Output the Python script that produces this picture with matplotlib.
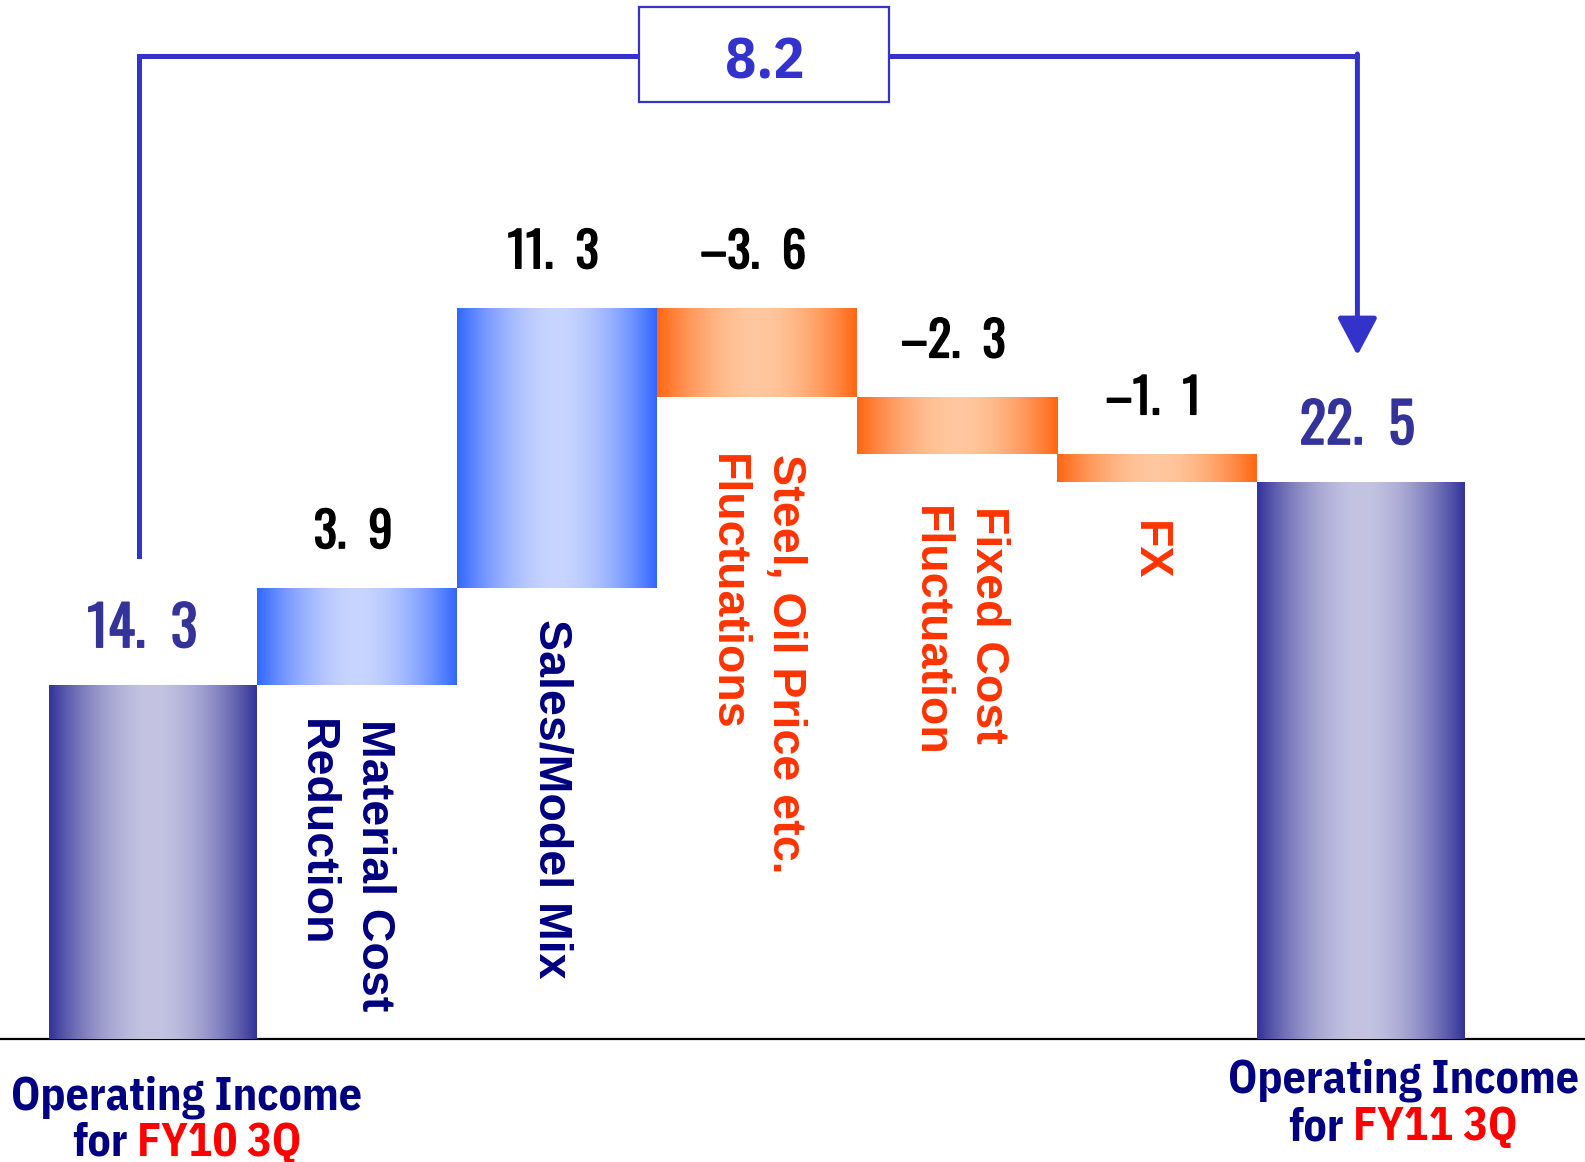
import numpy as np
import matplotlib
matplotlib.use("Agg")
import matplotlib.pyplot as plt
import matplotlib.patheffects as pe
from matplotlib.colors import to_rgb
from matplotlib.patches import Rectangle
from matplotlib.offsetbox import TextArea, HPacker, AnnotationBbox

# ---------------- data ----------------
categories = ["Operating Income\nfor FY10 3Q", "Material Cost\nReduction", "Sales/Model Mix",
              "Steel, Oil Price etc.\nFluctuations", "Fixed Cost\nFluctuation", "FX",
              "Operating Income\nfor FY11 3Q"]
values = [14.3, 3.9, 11.3, -3.6, -2.3, -1.1, 22.5]
kinds = ["total", "delta", "delta", "delta", "delta", "delta", "total"]

# ---------------- style ----------------
NAVY_TXT = "#000080"
RED_TXT = "#FF0000"
ORANGE_TXT = "#FF3300"
VAL_NAVY = "#333399"
LINE_BLUE = "#3333CC"
grad_cols = {
    "total": ("#333399", "#C4C4E2"),
    "up": ("#3366FF", "#C8D5FF"),
    "down": ("#FF6611", "#FFC8A0"),
}
VALFONT = ["Oswald", "DejaVu Sans"]
NARROW = ["IBM Plex Sans Condensed", "DejaVu Sans"]
BOLD = ["Liberation Sans", "DejaVu Sans"]

fig = plt.figure(figsize=(15.85, 11.62), dpi=100)
ax = fig.add_axes([0, 0, 1, 1])
ax.axis("off")

# ---------------- waterfall geometry ----------------
n = len(values)
x = np.arange(n, dtype=float)
widths = np.ones(n)
widths[0] = widths[-1] = 1.04
x[0] -= 0.02
x[-1] += 0.02
bottoms, heights = [], []
cum = 0.0
for v, k in zip(values, kinds):
    if k == "total":
        bottoms.append(0.0)
        heights.append(v)
        cum = v
    else:
        bottoms.append(cum if v >= 0 else cum + v)
        heights.append(abs(v))
        cum += v

bars = ax.bar(x, heights, bottom=bottoms, width=widths, facecolor="none",
              edgecolor="none", zorder=3)

def gradient(edge, center, npts=256):
    e = np.array(to_rgb(edge))
    c = np.array(to_rgb(center))
    t = np.linspace(0, 1, npts)
    f = 1 - np.abs(2 * t - 1) ** 1.8
    return (e[None, :] + (c - e)[None, :] * f[:, None])[None, :, :]

for bar, v, k in zip(bars, values, kinds):
    key = "total" if k == "total" else ("up" if v >= 0 else "down")
    img = gradient(*grad_cols[key])
    l, b = bar.get_x(), bar.get_y()
    w, h = bar.get_width(), bar.get_height()
    im = ax.imshow(img, extent=[l, l + w, b, b + h], aspect="auto",
                   interpolation="bilinear", zorder=2)
    im.set_clip_path(bar)

ax.set_xlim(-0.787, 7.138)
ax.set_ylim(-4.97, 41.95)

# baseline
ax.axhline(0, color="black", lw=1.6, zorder=1)

# ---------------- value labels ----------------
def fmt(v):
    s = f"{v:.1f}".replace(".", ".  ")
    return s.replace("-", "\u2013")

value_dx_pt = [-8, -3, -3, -3, -3, -3, -3]
for i, (v, k) in enumerate(zip(values, kinds)):
    top = bottoms[i] + heights[i]
    col = VAL_NAVY if k == "total" else "black"
    size = 40 if k == "total" else 35
    ax.annotate(fmt(v), xy=(x[i], top), xytext=(value_dx_pt[i], 40),
                textcoords="offset points", ha="center", va="center",
                fontsize=size, color=col, family=VALFONT, zorder=5,
                path_effects=[pe.withStroke(linewidth=1.0, foreground=col)])

# ---------------- rotated category labels ----------------
label_gap_pt = [0, 25, 22, 41, 37, 28, 0]
label_dx_pt = [0, -9, -4.5, -1, 1, -6, 0]
for i, (cat, v, k) in enumerate(zip(categories, values, kinds)):
    if k != "delta":
        continue
    col = NAVY_TXT if v >= 0 else ORANGE_TXT
    ax.annotate(cat, xy=(x[i], bottoms[i]), xytext=(label_dx_pt[i], -label_gap_pt[i]),
                textcoords="offset points", rotation=270, rotation_mode="anchor",
                ha="left", va="center", multialignment="left", linespacing=1.4,
                fontsize=33.5, fontweight="bold", color=col, family=BOLD, zorder=5)

# ---------------- bottom total labels ----------------
bottom_offsets = {0: (24, 42, 75), n - 1: (30, 30, 64)}
for i, (dx, d1, d2) in bottom_offsets.items():
    line1, line2 = categories[i].split("\n")
    word, rest = line2.split(" ", 1)
    tp = dict(fontsize=33, fontweight="bold", family=NARROW)
    t1 = TextArea(line1, textprops=dict(color=NAVY_TXT, **tp))
    ab1 = AnnotationBbox(t1, (x[i], 0), xybox=(dx, -d1), boxcoords="offset points",
                         xycoords="data", frameon=False, box_alignment=(0.5, 0.5),
                         annotation_clip=False)
    ax.add_artist(ab1)
    ta = TextArea(word, textprops=dict(color=NAVY_TXT, **tp))
    tb = TextArea(rest, textprops=dict(color=RED_TXT, **tp))
    hp = HPacker(children=[ta, tb], sep=7, pad=0, align="baseline")
    ab2 = AnnotationBbox(hp, (x[i], 0), xybox=(dx, -d2), boxcoords="offset points",
                         xycoords="data", frameon=False, box_alignment=(0.5, 0.5),
                         annotation_clip=False)
    ax.add_artist(ab2)

# ---------------- bracket with total change ----------------
change = round(values[-1] - values[0], 1)
y_br = 39.7
xL = x[0] - 0.07
xR = x[-1] - 0.02
y_startL = values[0] + 5.2
box_l, box_r = 2.41, 3.66
box_b, box_t = 37.83, 41.66
ax.plot([xL, xL, box_l], [y_startL, y_br, y_br], color=LINE_BLUE, lw=3.6,
        solid_joinstyle="miter", zorder=4)
ax.plot([box_r, xR], [y_br, y_br], color=LINE_BLUE, lw=3.6, zorder=4)
ax.annotate("", xy=(xR, 27.6), xytext=(xR, y_br + 0.07),
            arrowprops=dict(arrowstyle="-|>,head_length=2.3,head_width=1.22",
                            mutation_scale=10, lw=3.6, color=LINE_BLUE,
                            shrinkA=0, shrinkB=0), zorder=4)
ax.add_patch(Rectangle((box_l, box_b), box_r - box_l, box_t - box_b, facecolor="white",
                       edgecolor=LINE_BLUE, lw=1.6, zorder=5))
ax.text((box_l + box_r) / 2, 39.4, f"{change:.1f}", ha="center", va="center",
        fontsize=42, fontweight="bold", color=LINE_BLUE, family=NARROW, zorder=6)

fig.savefig("out.png", dpi=100)
